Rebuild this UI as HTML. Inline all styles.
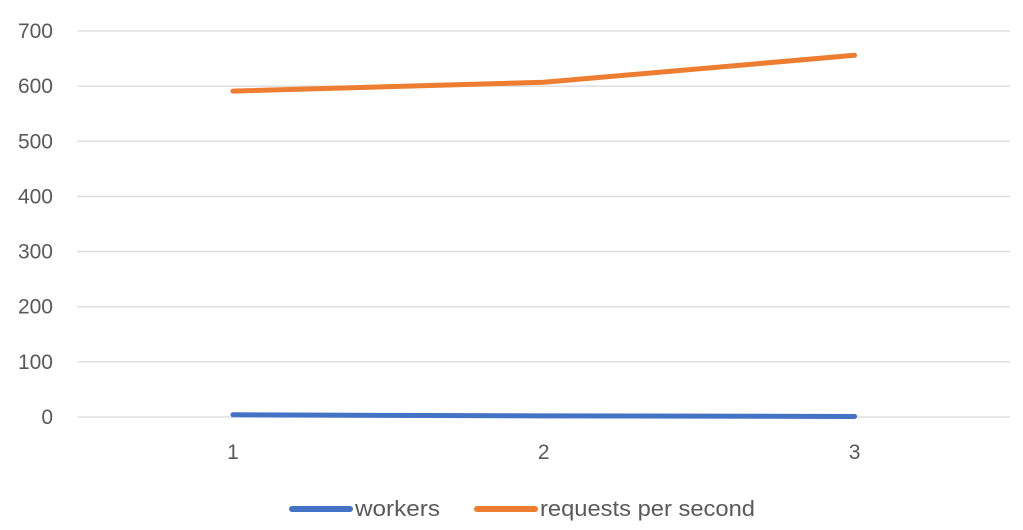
<!DOCTYPE html>
<html><head><meta charset="utf-8"><style>
body{margin:0;background:#fff;width:1023px;height:525px;overflow:hidden}
svg text{font-family:"Liberation Sans",sans-serif;fill:#595959}
</style></head><body>
<svg id="chart" width="1023" height="525" xmlns="http://www.w3.org/2000/svg">
<g id="grid"></g><g id="yt"></g><g id="xt"></g><g id="series"></g>
<g>
<line x1="292" y1="509" x2="350" y2="509" stroke="#4472C4" stroke-width="6" stroke-linecap="round"/>
<text x="355" y="516" font-size="22" textLength="85" lengthAdjust="spacingAndGlyphs">workers</text>
<line x1="477" y1="509" x2="535" y2="509" stroke="#ED7D31" stroke-width="6" stroke-linecap="round"/>
<text x="540" y="516" font-size="22" textLength="215" lengthAdjust="spacingAndGlyphs">requests per second</text>
</g>
</svg>
<script>
const categories=["1","2","3"];
const workers=[4,2,1];
const rps=[591,607,656];
const yTicks=[0,100,200,300,400,500,600,700];
const NS="http://www.w3.org/2000/svg";
const x0=77.5,x1=1010,y0=417,y1=31,ymax=700;
const xs=i=>x0+(x1-x0)/categories.length*(i+0.5);
const ys=v=>y0-(y0-y1)*v/ymax;
function mk(p,t,a){const e=document.createElementNS(NS,t);for(const k in a)e.setAttribute(k,a[k]);document.getElementById(p).appendChild(e);return e;}
yTicks.forEach(v=>{
const l=mk('grid','line',{x1:x0,x2:x1,y1:ys(v),y2:ys(v),stroke:'#d9d9d9','stroke-width':1.3});


const t=mk('yt','text',{x:53,y:ys(v)+7,'text-anchor':'end','font-size':21});
t.textContent=v;


});
categories.forEach((c,i)=>{
const t=mk('xt','text',{x:xs(i),y:459,'text-anchor':'middle','font-size':21});
t.textContent=c;


});
[[workers,'#4472C4','workers-line'],[rps,'#ED7D31','rps-line']].forEach(([d,c,n])=>{
const p=mk('series','polyline',{points:d.map((v,i)=>xs(i)+','+ys(v)).join(' '),fill:'none',stroke:c,'stroke-width':5,'stroke-linecap':'round','stroke-linejoin':'round'});


});
</script>
</body></html>
